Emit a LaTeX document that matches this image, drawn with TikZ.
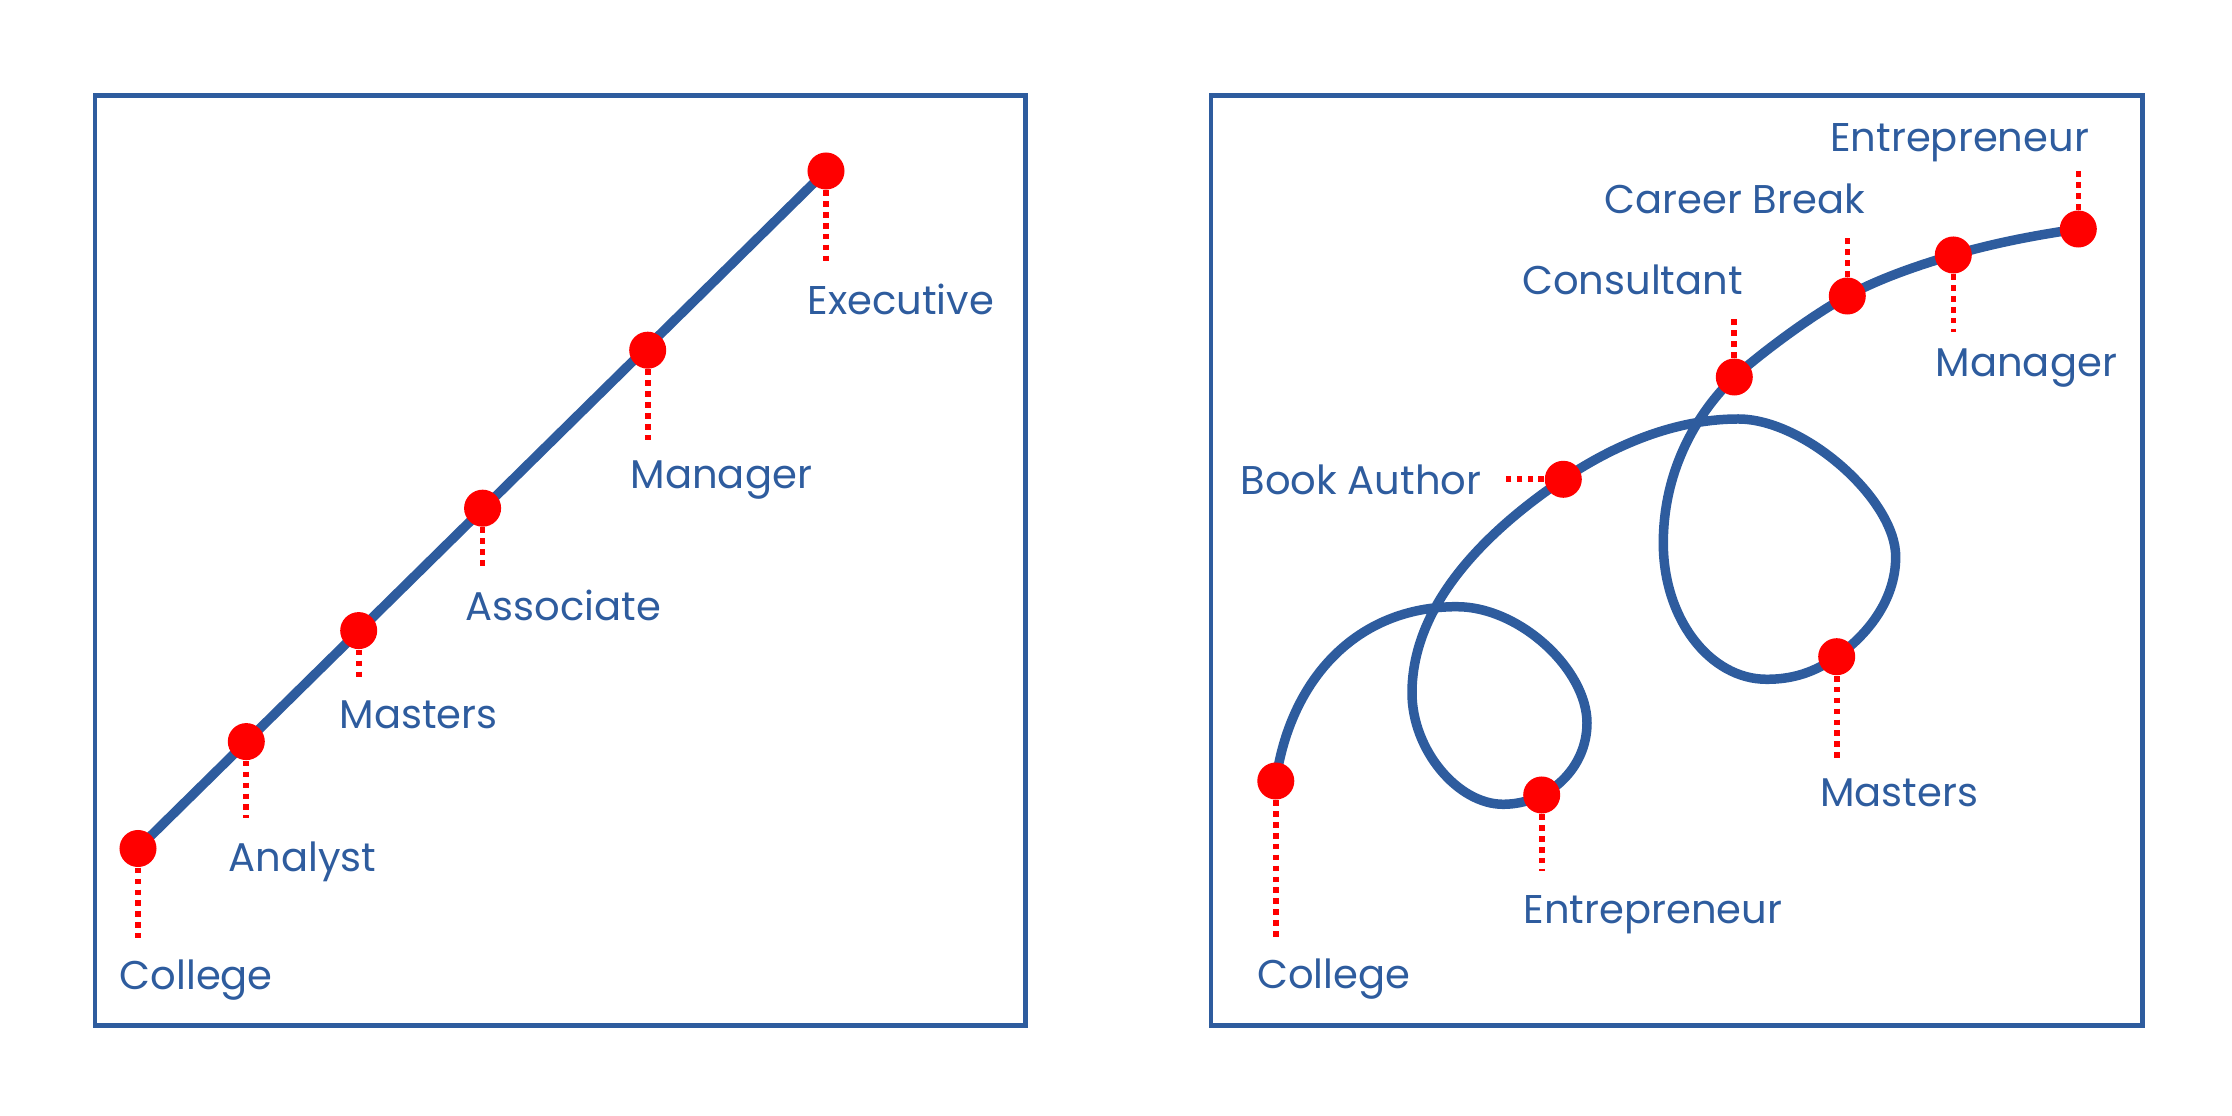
\documentclass[tikz,border=0pt]{standalone}
\usepackage{fontspec}
\setmainfont{Poppins}
\definecolor{cblue}{RGB}{46,92,158}
\definecolor{cred}{RGB}{255,0,0}
\begin{document}
\begin{tikzpicture}[x=0.01cm,y=-0.01cm,
  frame/.style={draw=cblue,line width=1.4pt},
  pathline/.style={draw=cblue,line width=2.7pt,line cap=round},
  dot/.style={circle,fill=cred,inner sep=0pt,minimum size=0.37cm},
  lead/.style={draw=cred,line width=1.6pt,dash pattern=on 1.6pt off 1.5pt},
  lbl/.style={text=cblue,font=\fontsize{11.4pt}{13pt}\selectfont,inner sep=0pt}]
\useasboundingbox (0,0) rectangle (2232,1116);
% frames
\node[frame,inner sep=0pt,minimum width=9.3cm,minimum height=9.29cm,anchor=north west] (leftframe) at (92.5,93.5) {};
\node[frame,inner sep=0pt,minimum width=9.31cm,minimum height=9.29cm,anchor=north west] (rightframe) at (1208.5,93.5) {};
% ---------------- left: straight career ----------------
\coordinate (L1) at (138,848.5);
\coordinate (L2) at (246.3,741.6);
\coordinate (L3) at (358.7,630.6);
\coordinate (L4) at (482.6,508.2);
\coordinate (L5) at (647.7,350.2);
\coordinate (L6) at (826,171);
\draw[pathline] (L1) -- (L6);
\foreach \i in {1,...,6} {\node[dot] (l\i) at (L\i) {};}
\coordinate (l1e) at (138,937.6);
\coordinate (l2e) at (246.3,818);
\coordinate (l3e) at (358.7,680);
\coordinate (l4e) at (482.6,570);
\coordinate (l5e) at (647.7,442);
\coordinate (l6e) at (826,260.6);
\foreach \i in {1,...,6} {\draw[lead] (l\i) -- (l\i e);}
\node[lbl,anchor=base west] (lt1) at (119,990) {College};
\node[lbl,anchor=base west] (lt2) at (228,872) {Analyst};
\node[lbl,anchor=base west] (lt3) at (339,728.5) {Masters};
\node[lbl,anchor=base west] (lt4) at (465,621) {Associate};
\node[lbl,anchor=base west] (lt5) at (630,489) {Manager};
\node[lbl,anchor=base west] (lt6) at (807,315) {Executive};
% ---------------- right: winding career ----------------
\coordinate (R1) at (1275.8,781);
\coordinate (R2) at (1541.7,795);
\coordinate (R3) at (1563.3,479.3);
\coordinate (R4) at (1836.7,656.7);
\coordinate (R5) at (1734.3,377);
\coordinate (R6) at (1847.3,296);
\coordinate (R7) at (1953.3,255);
\coordinate (R8) at (2078.3,229);
\draw[pathline] (R1) .. controls (1290,680) and (1356,606.7) .. (1456.7,606.7)
 .. controls (1520,606.7) and (1587,670) .. (1587,723)
 .. controls (1587,768) and (1549,804.3) .. (1503,804.3)
 .. controls (1458,804.3) and (1412,750) .. (1412,693)
 .. controls (1412,603) and (1488.6,529.7) .. (R3)
 .. controls (1605,451) and (1668.3,419) .. (1738.3,419)
 .. controls (1805,419) and (1895.7,500) .. (1895.7,556.7)
 .. controls (1895.7,601.7) and (1865.4,636.4) .. (R4)
 .. controls (1813.7,673) and (1791.7,679.3) .. (1766.7,679.3)
 .. controls (1709.6,679.3) and (1663.3,618.4) .. (1663.3,543.3)
 .. controls (1663.3,468.3) and (1698.3,412) .. (R5)
 .. controls (1764.3,350.6) and (1812.2,315.2) .. (R6)
 .. controls (1878.9,278.7) and (1918.7,265.1) .. (R7)
 .. controls (1993.6,243.2) and (2036.7,234.9) .. (R8);
\foreach \i in {1,...,8} {\node[dot] (r\i) at (R\i) {};}
\coordinate (r1e) at (1275.8,940.6);
\coordinate (r2e) at (1541.7,871);
\coordinate (r3e) at (1504.8,479.3);
\coordinate (r4e) at (1836.7,762);
\coordinate (r5e) at (1734.3,315);
\coordinate (r6e) at (1847.3,233.3);
\coordinate (r7e) at (1953.3,331.7);
\coordinate (r8e) at (2078.3,166.7);
\foreach \i in {1,...,8} {\draw[lead] (r\i) -- (r\i e);}
\node[lbl,anchor=base west] (rt1) at (1256.4,989) {College};
\node[lbl,anchor=base west] (rt2) at (1523,923.6) {Entrepreneur};
\node[lbl,anchor=base east] (rt3) at (1482,495) {Book Author};
\node[lbl,anchor=base west] (rt4) at (1819.4,807) {Masters};
\node[lbl,anchor=base east] (rt5) at (1743.6,295) {Consultant};
\node[lbl,anchor=base east] (rt6) at (1865.5,213.3) {Career Break};
\node[lbl,anchor=base west] (rt7) at (1935,377) {Manager};
\node[lbl,anchor=base east] (rt8) at (2089.7,151.5) {Entrepreneur};
\end{tikzpicture}
\end{document}
